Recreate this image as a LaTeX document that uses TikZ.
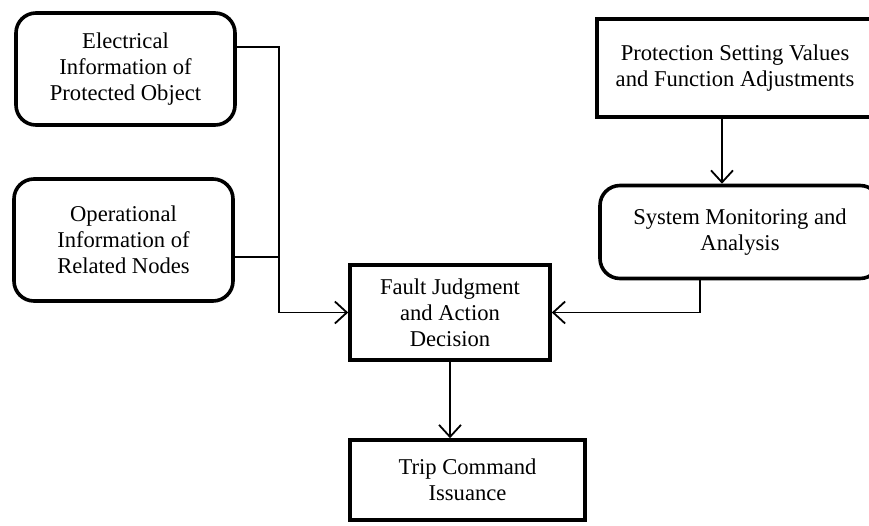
\documentclass[tikz,border=0pt]{standalone}
\usepackage{fontspec}
\setmainfont{Liberation Serif}
\usetikzlibrary{arrows.meta}
\begin{document}
\begin{tikzpicture}[x=1pt,y=-1pt,
  box/.style={draw, line width=3.6pt, align=center, inner sep=0pt,
    font=\fontsize{22.6}{26}\selectfont},
  rbox/.style={box, rounded corners=20pt},
  conn/.style={line width=1.8pt},
  arr/.style={conn, -{Straight Barb[length=12pt,width=22pt,line width=1.8pt]}}]
\useasboundingbox (0,0) rectangle (869,525);
\clip (0,0) rectangle (869,525);
\node[rbox, minimum width=219pt, minimum height=112pt] (elec) at (125.5,69)
  {Electrical\\Information of\\Protected Object};
\node[rbox, minimum width=219pt, minimum height=122pt] (oper) at (123.5,240)
  {Operational\\Information of\\Related Nodes};
\node[box, minimum width=276pt, minimum height=98pt] (prot) at (735,68)
  {Protection Setting Values\\and Function Adjustments};
\node[rbox, minimum width=280pt, minimum height=93pt] (sys) at (740,232)
  {System Monitoring and\\Analysis};
\node[box, minimum width=200pt, minimum height=95pt] (fault) at (450,312.5)
  {Fault Judgment\\and Action\\Decision};
\node[box, minimum width=235pt, minimum height=80pt] (trip) at (467.5,480)
  {Trip Command\\Issuance};
\coordinate (bus) at (279,312.5);
\path (elec.east) ++(0,-22) coordinate (eo);
\path (oper.east) ++(0,17) coordinate (oo);
\draw[arr] (eo) -| (bus) -- (fault.west);
\draw[conn] (oo) -- (oo -| bus);
\draw[arr] ([xshift=-13pt]prot.south) -- ([xshift=-13pt]prot.south |- sys.north);
\draw[arr] ([xshift=-40pt]sys.south) |- (fault.east);
\draw[arr] (fault.south) -- (fault.south |- trip.north);
\end{tikzpicture}
\end{document}
